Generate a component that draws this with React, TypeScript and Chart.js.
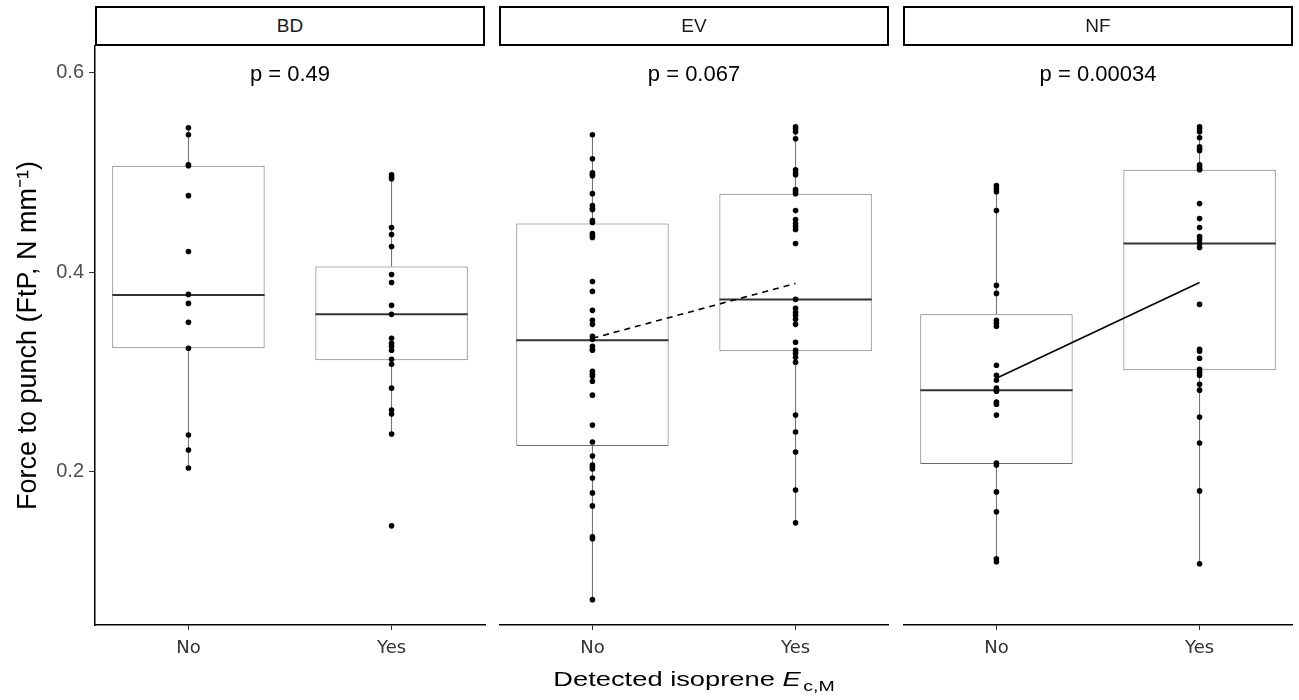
import React, { useEffect, useRef } from "react";
import { Chart, registerables } from "chart.js";

Chart.register(...registerables);

// categories and facets
const categories = ["No", "Yes"];
const panelNames = ["BD", "EV", "NF"];
const pValues = ["p = 0.49", "p = 0.067", "p = 0.00034"];
const yTicks = [0.2, 0.4, 0.6];

const bdNo = [0.545, 0.538, 0.508, 0.507, 0.477, 0.421, 0.378, 0.369, 0.35, 0.324, 0.237, 0.222, 0.204];
const bdYes = [
    0.498, 0.496, 0.494, 0.445, 0.438, 0.426, 0.398, 0.39, 0.367, 0.358, 0.334, 0.329, 0.326, 0.322, 0.313,
    0.308, 0.284, 0.262, 0.258, 0.238, 0.146,
];
const evNo = [
    0.538, 0.514, 0.5, 0.498, 0.497, 0.479, 0.467, 0.464, 0.463, 0.452, 0.45, 0.439, 0.437, 0.435, 0.391, 0.381,
    0.362, 0.352, 0.348, 0.336, 0.333, 0.326, 0.323, 0.322, 0.301, 0.298, 0.296, 0.291, 0.277, 0.247, 0.23, 0.216,
    0.207, 0.205, 0.203, 0.194, 0.179, 0.166, 0.135, 0.133, 0.072,
];
const evYes = [
    0.546, 0.544, 0.541, 0.534, 0.503, 0.5, 0.498, 0.483, 0.481, 0.479, 0.462, 0.453, 0.449, 0.446, 0.443, 0.429,
    0.373, 0.364, 0.36, 0.357, 0.353, 0.348, 0.33, 0.322, 0.319, 0.315, 0.31, 0.257, 0.24, 0.22, 0.182, 0.149,
];
const nfNo = [
    0.487, 0.484, 0.481, 0.462, 0.387, 0.379, 0.352, 0.349, 0.346, 0.307, 0.297, 0.292, 0.284, 0.282, 0.281, 0.27,
    0.268, 0.257, 0.209, 0.207, 0.18, 0.16, 0.113, 0.11,
];
const nfYes = [
    0.546, 0.544, 0.541, 0.535, 0.526, 0.524, 0.522, 0.508, 0.506, 0.504, 0.503, 0.469, 0.454, 0.445, 0.436, 0.433,
    0.429, 0.425, 0.368, 0.323, 0.321, 0.314, 0.303, 0.3, 0.297, 0.288, 0.282, 0.255, 0.229, 0.181, 0.108,
];
const points = [
    [bdNo, bdYes],
    [evNo, evYes],
    [nfNo, nfYes],
];

// box plot statistics per facet: [No, Yes]
const whiskerLow = [[0.204, 0.238], [0.072, 0.149], [0.111, 0.108]];
const q1 = [[0.324, 0.312], [0.226, 0.321], [0.208, 0.302]];
const medians = [[0.3775, 0.358], [0.332, 0.373], [0.282, 0.429]];
const q3 = [[0.507, 0.406], [0.449, 0.479], [0.358, 0.503]];
const whiskerHigh = [[0.545, 0.498], [0.538, 0.546], [0.487, 0.546]];

// group means (no trend line drawn for BD)
const meanNo: (number | null)[] = [null, 0.334, 0.294];
const meanYes: (number | null)[] = [null, 0.389, 0.39];

// layout
const PANEL_LEFT = [95, 499, 903];
const PANEL_W = 390;
const PLOT_TOP = 46;
const Y_AXIS_W = 95;
const BOX_W = 0.75;
const BOX_LINE = "#6b6b6b";

const Panel: React.FC<{ index: number }> = ({ index }) => {
    const canvasRef = useRef<HTMLCanvasElement | null>(null);
    const first = index === 0;

    useEffect(() => {
        if (!canvasRef.current) return;
        const datasets: any[] = [];

        // dots on top of everything
        datasets.push({
            type: "scatter",
            data: points[index].flatMap((vals, c) => vals.map((v) => ({ x: c + 1, y: v }))),
            backgroundColor: "#000",
            borderColor: "#000",
            borderWidth: 0,
            pointRadius: 2.8,
            order: 0,
        });

        if (meanNo[index] !== null) {
            datasets.push({
                type: "line",
                data: [
                    { x: 1, y: meanNo[index] },
                    { x: 2, y: meanYes[index] },
                ],
                borderColor: "#000",
                borderWidth: 1.6,
                borderDash: index === 1 ? [6, 5] : [],
                pointRadius: 0,
                fill: false,
                order: 1,
            });
        }

        categories.forEach((_, c) => {
            const x = c + 1;
            datasets.push({
                type: "line",
                data: [
                    { x: x - BOX_W / 2, y: medians[index][c] },
                    { x: x + BOX_W / 2, y: medians[index][c] },
                ],
                borderColor: "#333",
                borderWidth: 2,
                pointRadius: 0,
                fill: false,
                order: 2,
            });
            datasets.push({
                type: "line",
                data: [
                    { x, y: whiskerLow[index][c] },
                    { x, y: q1[index][c] },
                ],
                borderColor: BOX_LINE,
                borderWidth: 1,
                pointRadius: 0,
                fill: false,
                order: 3,
            });
            datasets.push({
                type: "line",
                data: [
                    { x, y: q3[index][c] },
                    { x, y: whiskerHigh[index][c] },
                ],
                borderColor: BOX_LINE,
                borderWidth: 1,
                pointRadius: 0,
                fill: false,
                order: 3,
            });
        });

        datasets.push({
            type: "bar",
            data: categories.map((_, c) => ({ x: c + 1, y: [q1[index][c], q3[index][c]] })),
            backgroundColor: "#fff",
            borderColor: BOX_LINE,
            borderWidth: 1,
            borderSkipped: false,
            barPercentage: BOX_W,
            categoryPercentage: 1,
            order: 4,
        });

        const pLabel = {
            id: "pLabel",
            afterDatasetsDraw: (chart: any) => {
                const ctx = chart.ctx;
                ctx.save();
                ctx.fillStyle = "#000";
                ctx.font = '22px "Liberation Sans", Arial, sans-serif';
                ctx.textAlign = "center";
                ctx.textBaseline = "middle";
                ctx.fillText(pValues[index], chart.scales.x.getPixelForValue(1.5), chart.chartArea.top + 29);
                ctx.restore();
            },
        };

        const chart = new Chart(canvasRef.current, {
            type: "scatter",
            data: { datasets },
            plugins: [pLabel],
            options: {
                animation: false,
                responsive: false,
                events: [],
                layout: {
                    autoPadding: false,
                    padding: { top: PLOT_TOP, left: 0, right: first ? 1 : 0, bottom: 0 },
                },
                plugins: {
                    legend: { display: false },
                    tooltip: { enabled: false },
                },
                scales: {
                    x: {
                        type: "linear",
                        min: 0.54,
                        max: 2.46,
                        offset: false,
                        afterBuildTicks: (scale: any) => {
                            scale.ticks = categories.map((_, c) => ({ value: c + 1 }));
                        },
                        afterFit: (scale: any) => {
                            scale.height = 75;
                            scale.paddingLeft = 0;
                            scale.paddingRight = 0;
                        },
                        ticks: {
                            callback: (v: any) => categories[Math.round(Number(v)) - 1] ?? "",
                            color: "#333",
                            font: { family: "DejaVu Sans", size: 18 },
                            padding: 8,
                            maxRotation: 0,
                            autoSkip: false,
                        },
                        grid: {
                            display: true,
                            drawOnChartArea: false,
                            drawTicks: true,
                            tickLength: 5,
                            color: "#333",
                            offset: false,
                        },
                        border: { display: true, color: "#000", width: 1.5 },
                    },
                    y: {
                        type: "linear",
                        display: first,
                        min: 0.0466,
                        max: 0.627,
                        beginAtZero: false,
                        afterBuildTicks: (scale: any) => {
                            scale.ticks = yTicks.map((v) => ({ value: v }));
                        },
                        afterFit: (scale: any) => {
                            scale.width = first ? Y_AXIS_W : 0;
                            scale.paddingTop = 0;
                            scale.paddingBottom = 0;
                        },
                        ticks: {
                            callback: (v: any) => Number(v).toFixed(1),
                            color: "#4d4d4d",
                            font: { family: "Liberation Sans", size: 20 },
                            padding: 5,
                        },
                        grid: {
                            display: true,
                            drawOnChartArea: false,
                            drawTicks: true,
                            tickLength: 6,
                            color: "#333",
                        },
                        border: { display: true, color: "#000", width: 1.5 },
                        title: {
                            display: true,
                            text: "Force to punch (FtP, N mm\u207B\u00B9)",
                            color: "#000",
                            font: { family: "Liberation Sans", size: 27 },
                            padding: { top: 12, bottom: 0 },
                        },
                    },
                },
            },
        });

        return () => chart.destroy();
    }, [index, first]);

    const left = first ? 0 : PANEL_LEFT[index];
    const width = first ? Y_AXIS_W + PANEL_W + 1 : PANEL_W;

    return (
        <canvas
            ref={canvasRef}
            width={width}
            height={700}
            style={{ position: "absolute", left, top: 0, width, height: 700 }}
        />
    );
};

export default function App() {
    return (
        <div
            style={{
                position: "absolute",
                left: 0,
                top: 0,
                width: 1299,
                height: 700,
                background: "#fff",
                fontFamily: '"Liberation Sans", Arial, sans-serif',
                overflow: "hidden",
            }}
        >
            {panelNames.map((_, i) => (
                <Panel key={i} index={i} />
            ))}
            {panelNames.map((name, i) => (
                <div
                    key={name}
                    style={{
                        position: "absolute",
                        left: PANEL_LEFT[i],
                        top: 6,
                        width: PANEL_W,
                        height: 40,
                        boxSizing: "border-box",
                        border: "2px solid #000",
                        background: "#fff",
                        display: "flex",
                        alignItems: "center",
                        justifyContent: "center",
                        fontSize: 19,
                        color: "#1a1a1a",
                    }}
                >
                    {name}
                </div>
            ))}
            <div
                style={{
                    position: "absolute",
                    left: PANEL_LEFT[0],
                    top: 667,
                    width: PANEL_LEFT[2] + PANEL_W - PANEL_LEFT[0],
                    textAlign: "center",
                    fontSize: 21,
                    lineHeight: "24px",
                    color: "#000",
                    transform: "scaleX(1.3)",
                    whiteSpace: "nowrap",
                }}
            >
                Detected isoprene <span style={{ fontStyle: "italic" }}>E</span>
                <sub style={{ fontSize: 15, verticalAlign: "-5px", marginLeft: 2 }}>c,M</sub>
            </div>
        </div>
    );
}
